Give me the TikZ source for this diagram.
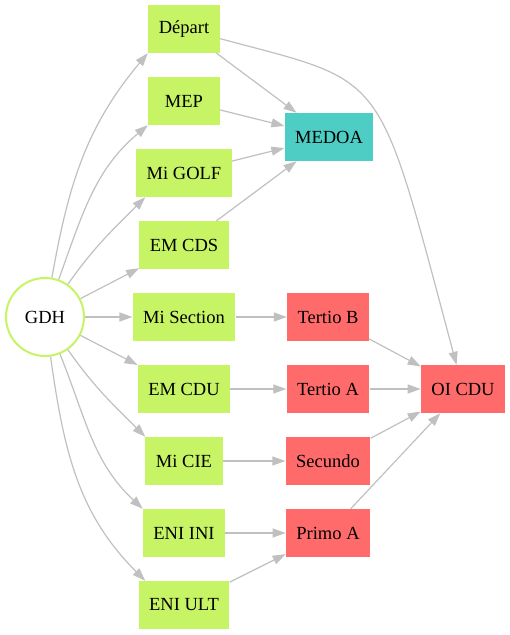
\documentclass[tikz,border=0pt]{standalone}
\usepackage{fontspec}
\setmainfont{Liberation Serif}
\usetikzlibrary{arrows.meta}
\definecolor{vert}{HTML}{C7F464}
\definecolor{turq}{HTML}{4ECDC4}
\definecolor{rouge}{HTML}{FF6B6B}
\definecolor{gris}{HTML}{C0C0C0}

\begin{document}
\begin{tikzpicture}[x=1pt,y=1pt,
  boite/.style={rectangle, minimum width=72pt, minimum height=48pt, inner xsep=10.5pt, font=\fontsize{18.5}{20}\selectfont},
  fleche/.style={color=gris, line width=1.2pt, -{Triangle[length=13pt,width=9pt]}}]
\useasboundingbox (0,0) rectangle (510,635);

\node[circle, draw=vert, line width=2pt, fill=white, minimum size=78pt, font=\fontsize{18.5}{20}\selectfont] (gdh) at (45,318) {GDH};

\node[boite, fill=vert] (depart) at (184,606) {Départ};
\node[boite, fill=vert] (mep) at (184,534) {MEP};
\node[boite, fill=vert] (migolf) at (184,462) {Mi GOLF};
\node[boite, fill=vert] (emcds) at (184,390) {EM CDS};
\node[boite, fill=vert] (misection) at (184,318) {Mi Section};
\node[boite, fill=vert] (emcdu) at (184,246) {EM CDU};
\node[boite, fill=vert] (micie) at (184,174) {Mi CIE};
\node[boite, fill=vert] (eniini) at (184,102) {ENI INI};
\node[boite, fill=vert] (eniult) at (184,30) {ENI ULT};

\node[boite, fill=turq] (medoa) at (329,498) {MEDOA};
\node[boite, fill=rouge] (tertiob) at (328,318) {Tertio B};
\node[boite, fill=rouge] (tertioa) at (328,246) {Tertio A};
\node[boite, fill=rouge] (secundo) at (328,174) {Secundo};
\node[boite, fill=rouge] (primoa) at (328,102) {Primo A};
\node[boite, fill=rouge] (oicdu) at (463,246) {OI CDU};

\draw (gdh) edge[fleche, out=80, in=230] (depart.south west);
\draw (gdh) edge[fleche, out=70, in=220] (mep.south west);
\draw (gdh) edge[fleche, out=55, in=225] (migolf.212);
\draw (gdh) edge[fleche] (emcds);
\draw (gdh) edge[fleche] (misection);
\draw (gdh) edge[fleche] (emcdu);
\draw (gdh) edge[fleche, out=-55, in=135] (micie.north west);
\draw (gdh) edge[fleche, out=-68, in=137] (eniini.north west);
\draw (gdh) edge[fleche, out=-82, in=135] (eniult.148);

\draw (depart) edge[fleche] (medoa);
\draw (mep) edge[fleche] (medoa);
\draw (migolf) edge[fleche] (medoa);
\draw (emcds) edge[fleche] (medoa);
\draw (depart) edge[fleche, out=-15, in=105, out distance=175pt, in distance=310pt] (oicdu);

\draw (misection) edge[fleche] (tertiob);
\draw (emcdu) edge[fleche] (tertioa);
\draw (micie) edge[fleche] (secundo);
\draw (eniini) edge[fleche] (primoa);
\draw (eniult) edge[fleche] (primoa);

\draw (tertiob) edge[fleche] (oicdu);
\draw (tertioa) edge[fleche] (oicdu);
\draw (secundo) edge[fleche] (oicdu);
\draw (primoa) edge[fleche] (oicdu);
\end{tikzpicture}
\end{document}
